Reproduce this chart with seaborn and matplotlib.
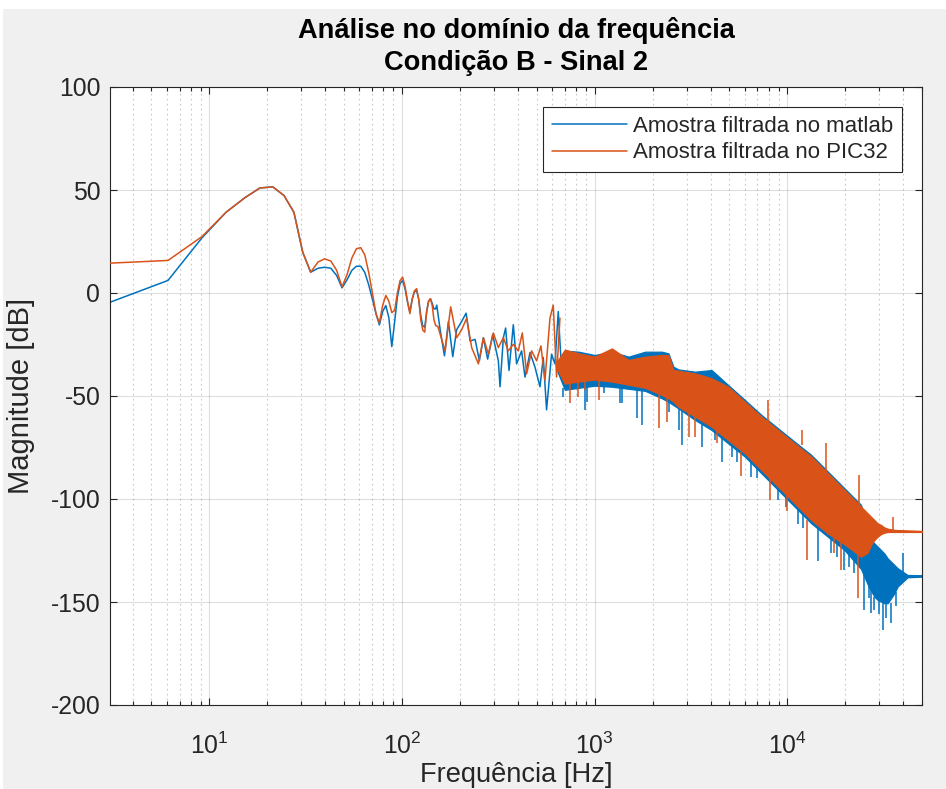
import matplotlib
matplotlib.use("Agg")
import numpy as np
import pandas as pd
import matplotlib.pyplot as plt
from matplotlib.lines import Line2D
from matplotlib.patches import Rectangle
from matplotlib.ticker import LogLocator, MultipleLocator, NullFormatter
import seaborn as sns

# ---------------------------------------------------------------------------
# Spectrum data (frequency in Hz, magnitude in dB)
# ---------------------------------------------------------------------------
# first FFT bins, both signals
freq_low = [3.05, 6.10, 9.16, 12.21, 15.26, 18.31, 21.36, 24.41, 27.47, 30.52,
            33.57, 36.62, 39.67, 42.73, 45.78, 48.83, 51.88, 54.93, 57.98, 61.04,
            64.09, 67.14, 70.19, 73.24, 76.29, 79.35, 82.40, 85.45, 88.50, 91.55,
            94.60, 97.66, 100.71, 103.76, 106.81, 109.86, 112.92, 115.97, 119.02, 122.07,
            125.12, 128.17, 131.23, 134.28, 137.33, 140.38, 143.43, 146.48, 149.54]
mag_low_matlab = [-4.5, 6.1, 26.8, 39.2, 46.2, 51.0, 51.5, 47.3, 39.2, 19.8,
                  10.1, 12.0, 12.5, 12.0, 8.5, 2.5, 6.5, 11.0, 13.0, 13.0,
                  10.0, 4.0, -3.0, -10.0, -15.5, -9.0, -6.1, -12.0, -26.0, -14.0,
                  -2.0, 4.5, 6.1, 2.0, -4.5, -9.3, -3.0, 0.5, 1.3, -3.0,
                  -11.0, -16.0, -16.6, -9.0, -4.0, -2.8, -5.0, -7.7, -7.7]
mag_low_pic = [14.5, 15.8, 27.4, 39.2, 46.2, 51.0, 51.5, 47.3, 39.2, 19.8,
               10.1, 15.0, 16.6, 15.5, 11.0, 3.0, 9.0, 17.0, 21.5, 22.0,
               18.5, 10.0, 0.0, -10.0, -14.5, -6.0, -1.2, -4.0, -9.5, -8.5,
               0.0, 6.0, 7.7, 3.0, -4.0, -10.0, -3.0, 1.0, 2.1, -3.0,
               -13.0, -18.0, -19.0, -9.0, -4.0, -2.8, -6.0, -13.0, -15.8]

# 150 Hz - 680 Hz: peaks and valleys of the noisy part
freq_mid_matlab = [151.5, 157.7, 166.1, 174.1, 183.4, 192.2, 204.0, 215.1, 225.6, 239.5,
                   252.1, 264.5, 278.3, 295.5, 316.2, 322.7, 335.7, 345.0, 359.2, 378.2,
                   393.3, 417.6, 434.8, 461.6, 490.0, 520.1, 541.0, 562.7, 597.3, 622.1,
                   647.1, 673.0]
mag_mid_matlab = [-5.9, -17.8, -30.5, -13.8, -30.9, -17.8, -13.8, -9.8, -23.3, -22.5,
                  -32.9, -21.7, -32.1, -20.2, -32.9, -45.5, -21.7, -17.0, -37.6, -15.4,
                  -34.4, -28.1, -40.8, -28.9, -36.0, -45.5, -31.3, -56.7, -29.7, -34.4,
                  -9.0, -37.6]
freq_mid_pic = [153.4, 167.4, 178.9, 192.2, 204.0, 216.6, 229.9, 249.1, 264.5, 280.7,
                298.0, 316.2, 335.7, 356.2, 378.2, 401.4, 421.1, 443.6, 470.7, 499.5,
                526.2, 552.0, 586.1, 609.5, 634.1, 660.3]
mag_mid_pic = [-16.2, -28.1, -6.7, -21.7, -17.8, -12.2, -26.5, -34.4, -21.7, -29.7,
               -19.4, -26.5, -21.7, -28.1, -24.9, -28.1, -19.4, -39.2, -28.1, -32.9,
               -25.7, -42.4, -12.2, -5.9, -40.8, -12.2]

# above ~650 Hz the bins are so dense that each trace becomes a band:
# upper and lower edge of that band
freq_band_matlab = [640, 700, 826, 1000, 1229, 1499, 1829, 2230, 2414, 2563, 2720, 3317,
                    4045, 4934, 6017, 7337, 8948, 10912, 13310, 16230, 19800, 24140,
                    26140, 27190, 28290, 29440, 30640, 31870, 33170, 35920, 37370, 42090,
                    50000]
upper_band_matlab = [-34.0, -28.0, -28.5, -30.1, -28.5, -30.9, -28.5, -28.5, -29.3, -35.8, -37.1, -38.2,
                     -37.4, -44.7, -51.9, -59.2, -65.7, -72.2, -78.6, -86.7, -94.8, -102.9,
                     -118.3, -119.9, -121.5, -123.1, -124.8, -126.4, -128.8, -132.0, -133.6, -136.9,
                     -137.0]
lower_band_matlab = [-38.0, -47.0, -46.0, -45.0, -45.5, -46.5, -47.5, -51.1, -52.8, -54.4, -56.0, -61.6,
                     -66.5, -73.0, -79.4, -87.5, -95.6, -103.7, -111.8, -118.3, -124.8, -134.0,
                     -141.5, -144.5, -147.4, -149.0, -149.8, -150.6, -150.6, -145.8, -142.5, -138.0,
                     -137.7]

freq_band_pic = [640, 700, 826, 1000, 1229, 1499, 1829, 2230, 2414, 2563, 2720, 3317,
                 4045, 4934, 6017, 7337, 8948, 10912, 13310, 16230, 19800, 24140,
                 26140, 27190, 28290, 29440, 30640, 31870, 33170, 35920, 50000]
upper_band_pic = [-33.0, -27.5, -29.3, -30.9, -26.9, -32.5, -30.9, -30.1, -30.1, -37.4, -37.7, -39.0,
                  -41.4, -45.5, -52.8, -60.0, -66.5, -73.0, -79.4, -87.5, -95.6, -103.7,
                  -107.0, -108.6, -110.2, -111.8, -112.6, -113.8, -114.4, -115.0, -115.5]
lower_band_pic = [-37.0, -44.0, -43.0, -42.0, -43.0, -44.5, -46.0, -49.5, -51.1, -52.8, -55.2, -60.0,
                  -64.9, -71.4, -77.8, -85.9, -94.0, -102.1, -110.2, -116.7, -122.0, -128.0,
                  -126.0, -122.3, -119.9, -118.3, -117.0, -116.4, -116.0, -116.0, -116.0]

# isolated spikes that stick out of the bands
spike_freq_matlab = [687, 895, 907, 1113, 1358, 1385, 1656, 1757, 2418, 2724,
                     2830, 3592, 4220, 4556, 5133, 5500, 6514, 7000, 8948, 9800,
                     11300, 12000, 14410, 16890, 18000, 19800, 21000, 22300, 25120, 26500,
                     27190, 28290, 30000, 31250, 32500, 34510, 36500, 39660]
spike_base_matlab = [-46.0, -45.0, -45.0, -45.5, -45.5, -45.5, -47.0, -47.5, -52.8, -56.0,
                     -57.0, -62.5, -66.0, -68.9, -73.0, -76.0, -81.1, -84.0, -95.6, -99.0,
                     -105.0, -108.0, -113.4, -119.1, -121.0, -124.8, -127.0, -129.6, -136.1, -142.0,
                     -144.2, -147.4, -149.0, -149.8, -150.0, -150.6, -145.0, -135.3]
spike_tip_matlab = [-50.3, -56.8, -52.7, -48.5, -53.4, -53.6, -60.8, -64.0, -58.0, -66.5,
                    -73.8, -74.6, -71.4, -81.9, -79.4, -82.0, -89.2, -90.0, -100.5, -104.0,
                    -112.0, -114.0, -130.0, -126.4, -128.0, -134.5, -133.0, -136.1, -153.9, -148.0,
                    -155.5, -153.9, -156.0, -163.6, -158.0, -160.3, -152.0, -126.4]

spike_freq_pic = [744, 821, 889, 1049, 2146, 2370, 3069, 3317, 4305, 5782,
                  8131, 10000, 12590, 17500, 19020, 23330,
                  7973, 11870, 15910, 23660, 35210]
spike_base_pic = [-43.5, -43.0, -42.5, -42.0, -49.5, -50.3, -58.0, -60.0, -65.0, -77.0,
                  -89.2, -98.0, -110.0, -118.0, -121.0, -127.0,
                  -62.5, -74.0, -86.7, -102.9, -115.0]
spike_tip_pic = [-53.5, -50.3, -47.1, -51.9, -65.5, -62.5, -69.8, -69.7, -72.8, -89.0,
                 -100.5, -106.0, -129.6, -126.0, -134.5, -148.0,
                 -51.9, -66.5, -73.0, -88.3, -108.6]

labels = ["Amostra filtrada no matlab", "Amostra filtrada no PIC32"]
colors = ["#0072BD", "#D95319"]

# ---------------------------------------------------------------------------
sns.set_style("ticks")
plt.rcParams["font.family"] = ["Liberation Sans", "DejaVu Sans"]
plt.rcParams["mathtext.fontset"] = "custom"
plt.rcParams["mathtext.rm"] = "Liberation Sans"
plt.rcParams["mathtext.it"] = "Liberation Sans:italic"
plt.rcParams["axes.unicode_minus"] = False

fig = plt.figure(figsize=(9.46, 7.89), dpi=100, facecolor="#f0f0f0")
fig.patches.append(Rectangle((0, 1 - 9 / 789), 1, 9 / 789, transform=fig.transFigure,
                             facecolor="white", edgecolor="none", zorder=-10))
fig.patches.append(Rectangle((0, 0), 3 / 946, 1, transform=fig.transFigure,
                             facecolor="white", edgecolor="none", zorder=-10))
ax = fig.add_axes([110 / 946, 1 - 705 / 789, 812 / 946, 618 / 789])
ax.set_facecolor("white")

lw = 1.1
series = [
    (freq_low + freq_mid_matlab, mag_low_matlab + mag_mid_matlab,
     freq_band_matlab, upper_band_matlab, lower_band_matlab,
     spike_freq_matlab, spike_base_matlab, spike_tip_matlab),
    (freq_low + freq_mid_pic, mag_low_pic + mag_mid_pic,
     freq_band_pic, upper_band_pic, lower_band_pic,
     spike_freq_pic, spike_base_pic, spike_tip_pic),
]
for i, (f_line, m_line, f_band, up, lo, sf, sb, st) in enumerate(series):
    col = colors[i]
    z = 2 + i
    df = pd.DataFrame({"f": f_line, "m": m_line})
    sns.lineplot(data=df, x="f", y="m", ax=ax, color=col, linewidth=lw,
                 estimator=None, sort=False, legend=False, zorder=z)
    ax.fill_between(f_band, lo, up, color=col, linewidth=0.9, edgecolor=col, zorder=z)
    ax.vlines(sf, sb, st, color=col, linewidth=lw, zorder=z)

ax.set_xscale("log")
ax.set_xlim(freq_low[0], 50000)
ax.set_ylim(-200, 100)
ax.yaxis.set_major_locator(MultipleLocator(50))
ax.xaxis.set_major_locator(LogLocator(base=10, numticks=12))
ax.xaxis.set_minor_locator(LogLocator(base=10, subs=np.arange(2, 10), numticks=12))
ax.xaxis.set_minor_formatter(NullFormatter())

ax.grid(True, which="major", color="#262626", alpha=0.15, linewidth=0.8, linestyle="-")
ax.grid(True, which="minor", axis="x", color="#262626", alpha=0.25, linewidth=0.8,
        linestyle=(0, (1.5, 3)))
ax.set_axisbelow(True)

for sp in ax.spines.values():
    sp.set_visible(True)
    sp.set_color("#262626")
    sp.set_linewidth(0.8)
ax.tick_params(which="both", direction="in", top=True, right=True, colors="#262626",
               labelcolor="#262626", labelsize=17.8, width=0.8)
ax.tick_params(which="major", length=5)
ax.tick_params(which="minor", length=3)
ax.tick_params(axis="x", pad=20)
ax.tick_params(axis="y", pad=7)

ax.set_xlabel("Frequência [Hz]", fontsize=19.6, color="#262626", labelpad=2)
ax.set_ylabel("Magnitude [dB]", fontsize=21, color="#262626", labelpad=11)
ax.set_title("Análise no domínio da frequência\nCondição B - Sinal 2",
             fontsize=19.6, fontweight="bold", color="black", pad=12, linespacing=1.32)

handles = [Line2D([], [], color=c, linewidth=lw) for c in colors]
leg = ax.legend(handles, labels, loc="upper right", fontsize=16, frameon=True,
                fancybox=False, framealpha=1, edgecolor="#262626",
                handlelength=3.4, handletextpad=0.25, labelspacing=0.25,
                borderaxespad=0.9, borderpad=0.4)
leg.get_frame().set_linewidth(0.8)
for t in leg.get_texts():
    t.set_color("#262626")

fig.savefig("out.png", dpi=100, facecolor=fig.get_facecolor())
